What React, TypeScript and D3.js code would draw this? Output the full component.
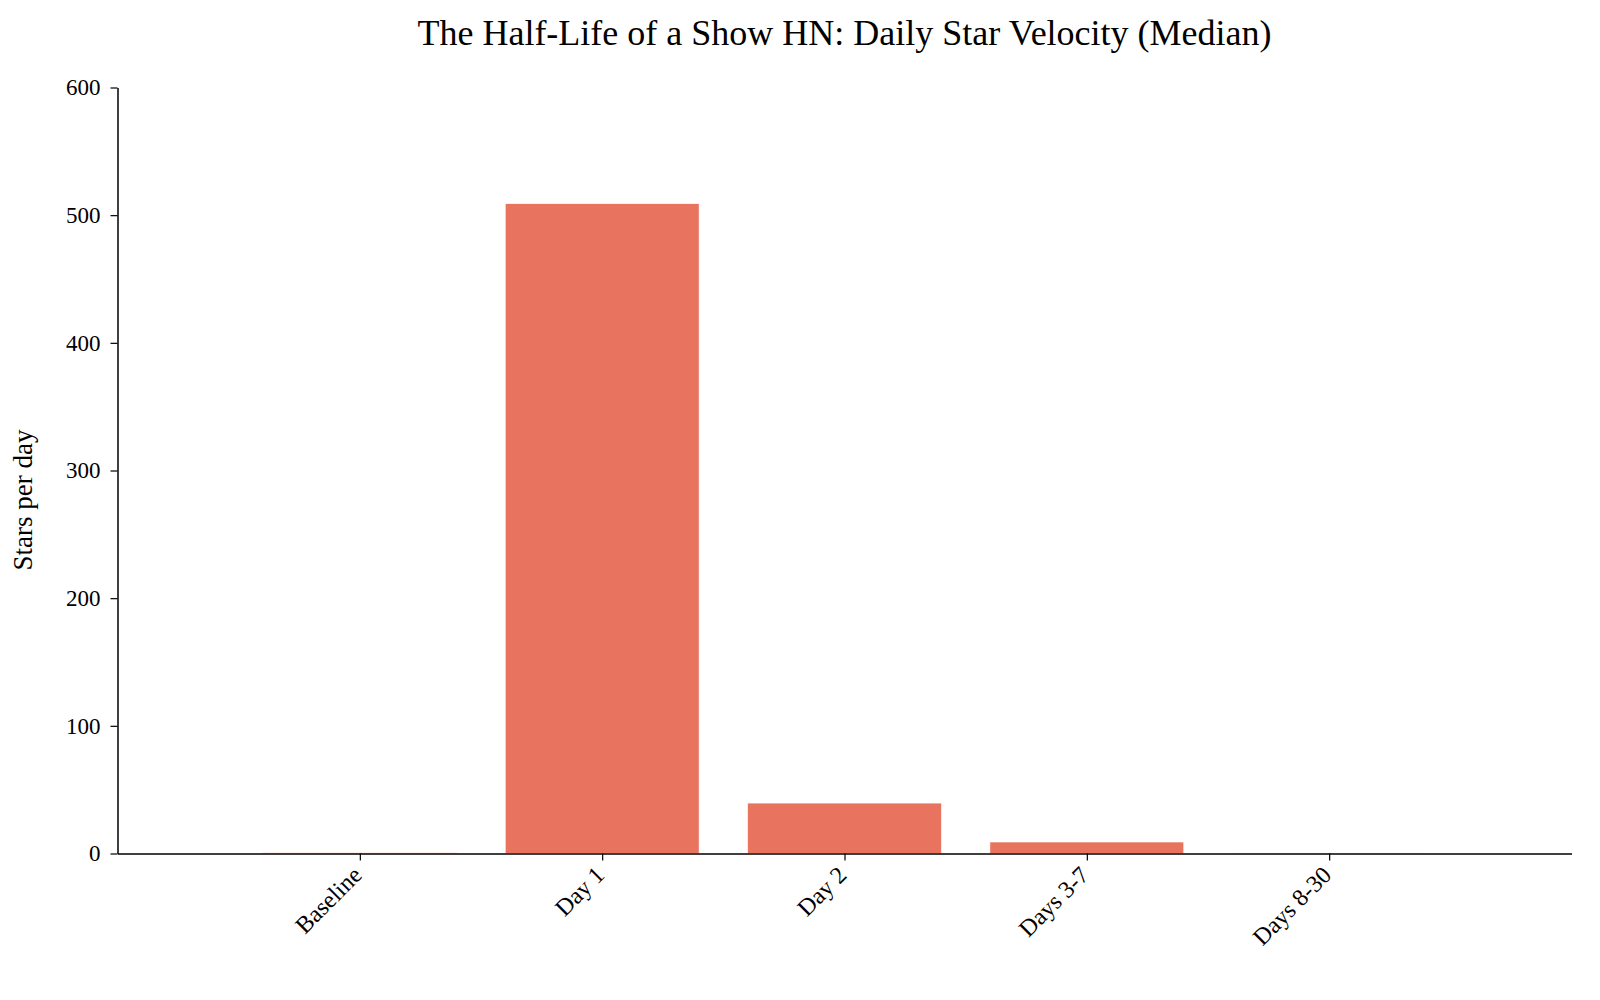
import { useEffect, useRef } from 'react';
import * as d3 from "d3";

const categories = ["Baseline", "Day 1", "Day 2", "Days 3-7", "Days 8-30"];
const medianStars = [0.6, 509, 39.5, 9, 0.2];
const yTicks = [0, 100, 200, 300, 400, 500, 600];

const chartTitle = "The Half-Life of a Show HN: Daily Star Velocity (Median)";
const yLabel = "Stars per day";

const W = 1600;
const H = 1000;
const margin = { top: 87.5, right: 28.5, bottom: 146.5, left: 117.5 };

const App = () => {
     const ref = useRef<SVGSVGElement>(null);

     useEffect(() => {
          const svg = d3.select(ref.current);
          svg.selectAll("*").remove();

          const x = d3.scaleLinear()
               .domain([-1, categories.length])
               .range([margin.left, W - margin.right]);
          const y = d3.scaleLinear()
               .domain([0, 600])
               .range([H - margin.bottom, margin.top]);
          const barW = (x(1) - x(0)) * 0.8;

          svg.append("rect").attr("width", W).attr("height", H).attr("fill", "white");

          // bars
          svg.append("g")
               .selectAll("rect")
               .data(medianStars)
               .join("rect")
               .attr("x", (_d, i) => x(i) - barW / 2)
               .attr("width", barW)
               .attr("y", d => y(d))
               .attr("height", d => y(0) - y(d))
               .attr("fill", "#e8735e")
               .attr("stroke", "#ffffff")
               .attr("stroke-width", 0.6);

          const font = "'Liberation Serif', 'Times New Roman', serif";

          // y axis
          const yAxis = svg.append("g")
               .attr("transform", `translate(${margin.left},0)`)
               .call(d3.axisLeft(y).tickValues(yTicks).tickSize(7).tickPadding(10).tickSizeOuter(0));
          yAxis.select(".domain").attr("stroke", "#000").attr("stroke-width", 1.5);
          yAxis.selectAll(".tick line").attr("stroke", "#000").attr("stroke-width", 1.2);
          yAxis.selectAll(".tick text")
               .attr("font-family", font)
               .attr("font-size", 23)
               .attr("fill", "#000");

          // x axis
          const xAxis = svg.append("g")
               .attr("transform", `translate(0,${H - margin.bottom})`)
               .call(d3.axisBottom(x)
                    .tickValues(d3.range(categories.length))
                    .tickFormat((_d, i) => categories[i])
                    .tickSize(7)
                    .tickSizeOuter(0));
          xAxis.select(".domain").attr("stroke", "#000").attr("stroke-width", 1.5);
          xAxis.selectAll(".tick line").attr("stroke", "#000").attr("stroke-width", 1.2);
          xAxis.selectAll(".tick text")
               .attr("font-family", font)
               .attr("font-size", 24)
               .attr("fill", "#000")
               .attr("text-anchor", "end")
               .attr("dy", null)
               .attr("y", 0)
               .attr("transform", "translate(3,23) rotate(-45)");

          // title
          svg.append("text")
               .attr("x", (margin.left + W - margin.right) / 2)
               .attr("y", 45)
               .attr("text-anchor", "middle")
               .attr("font-family", font)
               .attr("font-size", 36)
               .attr("fill", "#000")
               .text(chartTitle);

          // y label
          svg.append("text")
               .attr("transform", `translate(32,500) rotate(-90)`)
               .attr("text-anchor", "middle")
               .attr("font-family", font)
               .attr("font-size", 27)
               .attr("fill", "#000")
               .text(yLabel);
     }, []);

     return (
          <div style={{ position: "absolute", top: 0, left: 0 }}>
               <svg ref={ref} width={W} height={H} />
          </div>
     );
};

export default App;
